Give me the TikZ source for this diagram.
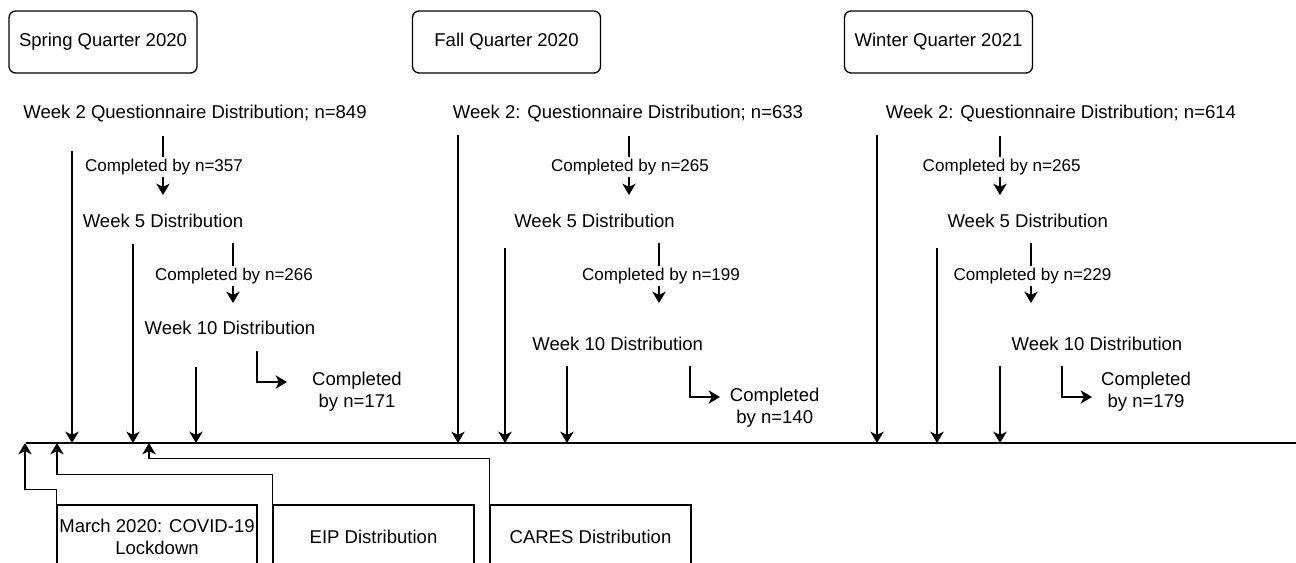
\documentclass[tikz,border=0pt]{standalone}
\usepackage{fontspec}
\setmainfont{Liberation Sans}
\usetikzlibrary{arrows.meta}
\tikzset{
  big/.style={font=\fontsize{13.9}{16.5}\selectfont, inner sep=0pt},
  small/.style={font=\fontsize{12.8}{15}\selectfont},
  onlbl/.style={small, fill=white, inner sep=1.5pt},
  quarter/.style={draw, line width=1pt, rounded corners=5pt, minimum width=141pt, minimum height=46.5pt, font=\fontsize{13.9}{16.5}\selectfont},
  event/.style={draw, line width=1pt, minimum height=48pt, font=\fontsize{13.9}{16.5}\selectfont, align=center, inner sep=0pt},
  arr/.style={line width=1.1pt, -{Stealth[length=8.5pt, width=10pt, inset=2.5pt]}},
}
\begin{document}
\begin{tikzpicture}[x=0.75pt,y=-0.75pt]
\useasboundingbox (0,0) rectangle (1296,562);
\clip (0,0) rectangle (1296,562);

% quarter boxes
\node[quarter] (spring) at (103,42) {Spring Quarter 2020};
\node[quarter] (fall) at (506.5,42) {Fall Quarter 2020};
\node[quarter] (winter) at (938.5,42) {Winter Quarter 2021};

% timeline
\coordinate (tl0) at (26,443);
\coordinate (tl1) at (1296,443);
\draw[line width=1.4pt] (tl0) -- (tl1);

% ---------- Spring ----------
\node[big, anchor=base] (w2a) at (195,118.5) {Week 2 Questionnaire Distribution; n=849};
\node[big, anchor=base] (w5a) at (163,227.5) {Week 5 Distribution};
\node[big, anchor=base] (w10a) at (230,334.5) {Week 10 Distribution};
\node[big, anchor=base, align=center] (fa) at (357,407.5) {Completed\\by n=171};
\coordinate (a1s) at (163,136); \coordinate (a1e) at (163,195);
\coordinate (a2s) at (233,243); \coordinate (a2e) at (233,303);
\coordinate (a3s) at (257,351); \coordinate (a3e) at (287,382);
\draw[arr] (a1s) -- (a1e);
\node[onlbl] (c1a) at (164,167) {Completed by n=357};
\draw[arr] (a2s) -- (a2e);
\node[onlbl] (c2a) at (234,276) {Completed by n=266};
\draw[arr] (a3s) |- (a3e);
\coordinate (la1) at (72,151); \coordinate (la2) at (133,244); \coordinate (la3) at (196,367);
\draw[arr] (la1) -- (la1 |- tl0);
\draw[arr] (la2) -- (la2 |- tl0);
\draw[arr] (la3) -- (la3 |- tl0);

% ---------- Fall ----------
\node[big, anchor=base] (w2b) at (628,118.5) {Week 2: Questionnaire Distribution; n=633};
\node[big, anchor=base] (w5b) at (594.5,227.5) {Week 5 Distribution};
\node[big, anchor=base] (w10b) at (617.7,350.5) {Week 10 Distribution};
\node[big, anchor=base, align=center] (fb) at (774.7,423.5) {Completed\\by n=140};
\coordinate (b1s) at (629,136); \coordinate (b1e) at (629,195);
\coordinate (b2s) at (659,243); \coordinate (b2e) at (659,303);
\coordinate (b3s) at (690,366); \coordinate (b3e) at (720,397);
\draw[arr] (b1s) -- (b1e);
\node[onlbl] (c1b) at (630,167) {Completed by n=265};
\draw[arr] (b2s) -- (b2e);
\node[onlbl] (c2b) at (661,276) {Completed by n=199};
\draw[arr] (b3s) |- (b3e);
\coordinate (lb1) at (458,135); \coordinate (lb2) at (505,248); \coordinate (lb3) at (567,366);
\draw[arr] (lb1) -- (lb1 |- tl0);
\draw[arr] (lb2) -- (lb2 |- tl0);
\draw[arr] (lb3) -- (lb3 |- tl0);

% ---------- Winter ----------
\node[big, anchor=base] (w2c) at (1061,118.5) {Week 2: Questionnaire Distribution; n=614};
\node[big, anchor=base] (w5c) at (1027.7,227.5) {Week 5 Distribution};
\node[big, anchor=base] (w10c) at (1097,350.5) {Week 10 Distribution};
\node[big, anchor=base, align=center] (fc) at (1146,407.5) {Completed\\by n=179};
\coordinate (d1s) at (1000,136); \coordinate (d1e) at (1000,195);
\coordinate (d2s) at (1031,243); \coordinate (d2e) at (1031,303);
\coordinate (d3s) at (1062,366); \coordinate (d3e) at (1092,397);
\draw[arr] (d1s) -- (d1e);
\node[onlbl] (c1c) at (1001.7,167) {Completed by n=265};
\draw[arr] (d2s) -- (d2e);
\node[onlbl] (c2c) at (1032.5,276) {Completed by n=229};
\draw[arr] (d3s) |- (d3e);
\coordinate (ld1) at (877,135); \coordinate (ld2) at (937,248); \coordinate (ld3) at (1000,366);
\draw[arr] (ld1) -- (ld1 |- tl0);
\draw[arr] (ld2) -- (ld2 |- tl0);
\draw[arr] (ld3) -- (ld3 |- tl0);

% ---------- events ----------
\node[event, minimum width=150pt] (mar) at (157,537) {March 2020: COVID-19\\Lockdown};
\node[event, minimum width=150.75pt] (eip) at (373.5,537) {EIP Distribution};
\node[event, minimum width=150.75pt] (cares) at (590.5,537) {CARES Distribution};
\coordinate (u1) at (25,443);
\coordinate (u2) at (57,443);
\coordinate (u3) at (149,443);
\draw[arr] (mar.north west) -- ++(0,-15) -| (u1);
\draw[arr] (eip.north west) -- ++(0,-30) -| (u2);
\draw[arr] (cares.north west) -- ++(0,-46) -| (u3);
\end{tikzpicture}
\end{document}
